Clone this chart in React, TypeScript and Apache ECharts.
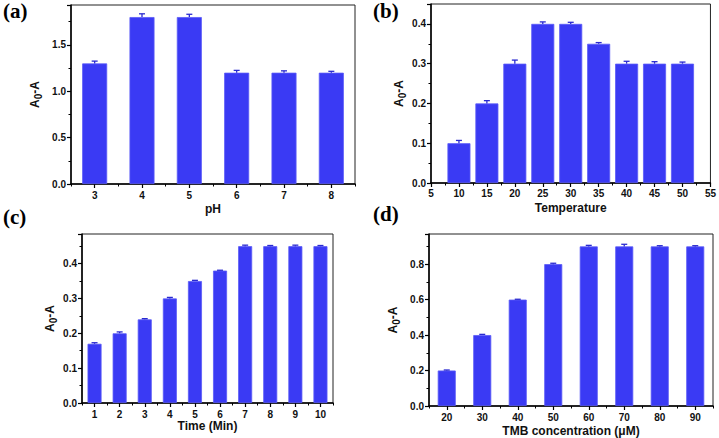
import React, { useEffect, useRef } from 'react';
import * as echarts from 'echarts';

const phCats = ['3', '4', '5', '6', '7', '8'];
const phValues = [1.3, 1.8, 1.8, 1.2, 1.2, 1.2];
const phErrors = [0.025, 0.035, 0.03, 0.025, 0.02, 0.015];

const tempX = [10, 15, 20, 25, 30, 35, 40, 45, 50];
const tempValues = [0.1, 0.2, 0.3, 0.4, 0.4, 0.35, 0.3, 0.3, 0.3];
const tempErrors = [0.007, 0.007, 0.009, 0.005, 0.004, 0.003, 0.006, 0.005, 0.004];

const timeCats = ['1', '2', '3', '4', '5', '6', '7', '8', '9', '10'];
const timeValues = [0.17, 0.2, 0.24, 0.3, 0.35, 0.38, 0.45, 0.45, 0.45, 0.45];
const timeErrors = [0.003, 0.004, 0.002, 0.003, 0.002, 0.001, 0.003, 0.002, 0.003, 0.002];

const tmbCats = ['20', '30', '40', '50', '60', '70', '80', '90'];
const tmbValues = [0.2, 0.4, 0.6, 0.8, 0.9, 0.9, 0.9, 0.9];
const tmbErrors = [0.003, 0.004, 0.002, 0.005, 0.006, 0.012, 0.004, 0.004];

const panelLabels = ['(a)', '(b)', '(c)', '(d)'];
const xNames = ['pH', 'Temperature', 'Time (Min)', 'TMB concentration (μM)'];

const FONT = '"Liberation Sans", Arial, sans-serif';
const BAR = '#3a3af4';
const ERR = '#2a2ad0';

const labelStyle = { color: '#111', fontWeight: 'bold' as const, fontSize: 10, fontFamily: FONT };
const nameStyleBase = { color: '#111', fontWeight: 'bold' as const, fontSize: 12, fontFamily: FONT };

function yAxis(gridIndex: number, max: number, interval: number, nameGap: number) {
  return {
    type: 'value',
    gridIndex,
    min: 0,
    max,
    interval,
    name: '{a|A}{s|0}{a|-A}',
    nameLocation: 'middle',
    nameGap,
    nameRotate: 90,
    nameTextStyle: {
      ...nameStyleBase,
      rich: {
        a: { fontSize: 12, fontWeight: 'bold', fontFamily: FONT, color: '#111', lineHeight: 16, verticalAlign: 'middle' },
        s: { fontSize: 10, fontWeight: 'bold', fontFamily: FONT, color: '#111', lineHeight: 10, verticalAlign: 'bottom' },
      },
    },
    axisLine: { show: true, lineStyle: { color: '#000', width: 1.5 } },
    axisTick: { show: true, inside: false, length: 4, lineStyle: { color: '#000', width: 1.2 } },
    minorTick: { show: true, splitNumber: 2, length: 2.5, lineStyle: { color: '#000', width: 1 } },
    splitLine: { show: false },
    axisLabel: { ...labelStyle, margin: 5, showMaxLabel: false, formatter: (v: number) => v.toFixed(1) },
  };
}

function catAxes(gridIndex: number, cats: string[], name: string, nameGap: number) {
  return [
    {
      type: 'category',
      gridIndex,
      data: cats,
      position: 'bottom',
      name,
      nameLocation: 'middle',
      nameGap,
      nameTextStyle: nameStyleBase,
      axisLine: { show: true, lineStyle: { color: '#000', width: 1.5 } },
      axisTick: { show: true, alignWithLabel: true, length: 4, lineStyle: { color: '#000', width: 1.2 } },
      axisLabel: { ...labelStyle, margin: 6 },
      splitLine: { show: false },
    },
    {
      type: 'category',
      gridIndex,
      data: cats,
      position: 'bottom',
      axisLine: { show: false },
      axisTick: { show: true, alignWithLabel: false, length: 2.5, lineStyle: { color: '#000', width: 1 } },
      axisLabel: { show: false },
      splitLine: { show: false },
    },
  ];
}

function errSeries(xAxisIndex: number, yAxisIndex: number, data: number[][]) {
  return {
    type: 'custom',
    xAxisIndex,
    yAxisIndex,
    z: 5,
    encode: { x: 0, y: 1 },
    data,
    renderItem: (params: any, api: any) => {
      const x = api.value(0);
      const v = api.value(1);
      const e = api.value(2);
      const p0 = api.coord([x, v]);
      const p1 = api.coord([x, v + e]);
      const style = { stroke: ERR, lineWidth: 1.3 };
      return {
        type: 'group',
        children: [
          { type: 'line', shape: { x1: p0[0], y1: p0[1], x2: p1[0], y2: p1[1] }, style },
          { type: 'line', shape: { x1: p1[0] - 3, y1: p1[1], x2: p1[0] + 3, y2: p1[1] }, style },
        ],
      };
    },
  };
}

function barSeries(xAxisIndex: number, yAxisIndex: number, data: any[], barWidth: any) {
  return {
    type: 'bar',
    xAxisIndex,
    yAxisIndex,
    data,
    barWidth,
    itemStyle: { color: BAR, borderColor: '#5a5af8', borderWidth: 0.8 },
    z: 3,
  };
}

export default function App() {
  const ref = useRef<HTMLDivElement>(null);
  useEffect(() => {
    if (!ref.current) return;
    const chart = echarts.init(ref.current, undefined, { renderer: 'svg' });
    const gridBase = { show: true, borderColor: '#222', borderWidth: 1, backgroundColor: 'transparent', containLabel: false };
    const option: any = {
      animation: false,
      backgroundColor: '#fff',
      grid: [
        { ...gridBase, left: 71, top: 5, width: 284, height: 179 },
        { ...gridBase, left: 431, top: 4, width: 281, height: 179 },
        { ...gridBase, left: 82, top: 234, width: 251, height: 169 },
        { ...gridBase, left: 429, top: 234, width: 284, height: 172 },
      ],
      xAxis: [
        ...catAxes(0, phCats, xNames[0], 19),
        {
          type: 'value',
          gridIndex: 1,
          min: 5,
          max: 55,
          interval: 5,
          name: xNames[1],
          nameLocation: 'middle',
          nameGap: 19,
          nameTextStyle: nameStyleBase,
          axisLine: { show: true, lineStyle: { color: '#000', width: 1.5 } },
          axisTick: { show: true, length: 4, lineStyle: { color: '#000', width: 1.2 } },
          minorTick: { show: true, splitNumber: 2, length: 2.5, lineStyle: { color: '#000', width: 1 } },
          axisLabel: { ...labelStyle, margin: 5 },
          splitLine: { show: false },
        },
        ...catAxes(2, timeCats, xNames[2], 17),
        ...catAxes(3, tmbCats, xNames[3], 19),
      ],
      yAxis: [
        yAxis(0, 1.93, 0.5, 28),
        yAxis(1, 0.45, 0.1, 24),
        yAxis(2, 0.485, 0.1, 24),
        yAxis(3, 0.97, 0.2, 28),
      ],
      series: [
        barSeries(0, 0, phValues, 25),
        errSeries(0, 0, phValues.map((v, i) => [i, v, phErrors[i]])),
        barSeries(2, 1, tempX.map((x, i) => [x, tempValues[i]]), 23),
        errSeries(2, 1, tempX.map((x, i) => [x, tempValues[i], tempErrors[i]])),
        barSeries(3, 2, timeValues, 14),
        errSeries(3, 2, timeValues.map((v, i) => [i, v, timeErrors[i]])),
        barSeries(5, 3, tmbValues, 18),
        errSeries(5, 3, tmbValues.map((v, i) => [i, v, tmbErrors[i]])),
      ],
      graphic: [
        [3, 0],
        [373, 0],
        [3, 206],
        [373, 203],
      ].map((p, i) => ({
        type: 'text',
        x: p[0],
        y: p[1],
        style: {
          text: panelLabels[i],
          font: 'bold 21px "Liberation Serif", "Times New Roman", serif',
          fill: '#000',
          textVerticalAlign: 'top',
        },
      })),
    };
    chart.setOption(option);
    return () => chart.dispose();
  }, []);
  return (
    <div
      ref={ref}
      style={{ position: 'fixed', left: 0, top: 0, width: 719, height: 438, background: '#fff' }}
    />
  );
}
